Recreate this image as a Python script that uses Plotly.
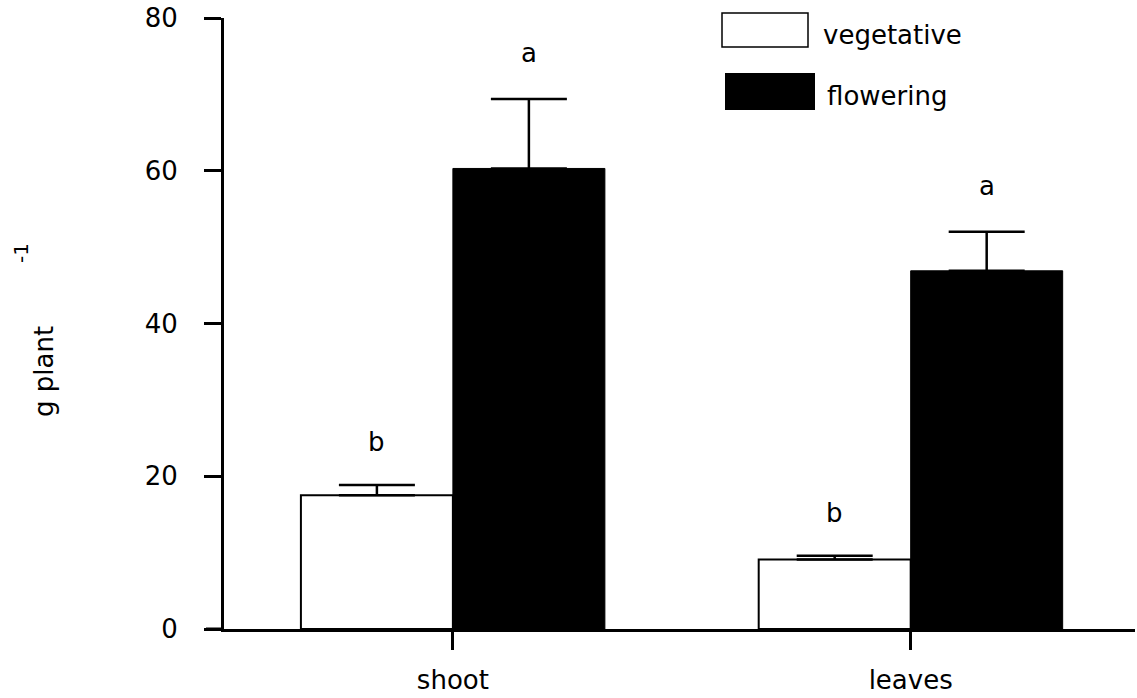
import plotly.graph_objects as go

categories = ["shoot", "leaves"]
vegetative = [17.5, 9.1]
vegetative_err = [1.35, 0.5]
flowering = [60.3, 46.9]
flowering_err = [9.1, 5.1]
veg_letters = ["b", "b"]
flo_letters = ["a", "a"]
yticks = [0, 20, 40, 60, 80]

FONT = "DejaVu Sans"
W, H = 1137, 698
L, R, T, B = 224, 2, 18, 69
PW = W - L - R
PH = H - T - B


def px(x):
    return (x - L) / PW


def py(y):
    return (H - B - y) / PH


fig = go.Figure()
fig.add_trace(go.Bar(
    x=categories, y=vegetative, name="vegetative",
    marker=dict(color="white", line=dict(color="black", width=2)),
    error_y=dict(type="data", array=vegetative_err, arrayminus=[0, 0], symmetric=False,
                 color="black", thickness=2.5, width=38),
))
fig.add_trace(go.Bar(
    x=categories, y=flowering, name="flowering",
    marker=dict(color="black", line=dict(color="black", width=1)),
    error_y=dict(type="data", array=flowering_err, arrayminus=[0, 0], symmetric=False,
                 color="black", thickness=2.5, width=38),
))

annotations = []
for i, c in enumerate(categories):
    annotations.append(dict(x=i - 0.166, y=vegetative[i] + vegetative_err[i], xref="x", yref="y",
                            text=veg_letters[i], showarrow=False, yanchor="middle", yshift=43,
                            font=dict(family=FONT, size=26, color="black")))
    annotations.append(dict(x=i + 0.166, y=flowering[i] + flowering_err[i], xref="x", yref="y",
                            text=flo_letters[i], showarrow=False, yanchor="middle", yshift=46,
                            font=dict(family=FONT, size=26, color="black")))

# y-axis title
annotations.append(dict(x=px(44), y=py(372), xref="paper", yref="paper", text="g plant",
                        textangle=-90, showarrow=False, xanchor="center", yanchor="middle",
                        font=dict(family=FONT, size=26, color="black")))
annotations.append(dict(x=px(21), y=py(253), xref="paper", yref="paper", text="-1",
                        textangle=-90, showarrow=False, xanchor="center", yanchor="middle",
                        font=dict(family=FONT, size=20, color="black")))
# legend
annotations.append(dict(x=px(821), y=py(35), xref="paper", yref="paper", text="vegetative",
                        showarrow=False, xanchor="left", yanchor="middle",
                        font=dict(family=FONT, size=26, color="black")))
annotations.append(dict(x=px(825), y=py(96), xref="paper", yref="paper", text="flowering",
                        showarrow=False, xanchor="left", yanchor="middle",
                        font=dict(family=FONT, size=26, color="black")))

shapes = [
    dict(type="rect", xref="paper", yref="paper", x0=px(722), x1=px(808), y0=py(47), y1=py(13),
         line=dict(color="black", width=1.5), fillcolor="white"),
    dict(type="rect", xref="paper", yref="paper", x0=px(725), x1=px(815), y0=py(110), y1=py(73),
         line=dict(color="black", width=0), fillcolor="black"),
    dict(type="line", xref="paper", yref="y", x0=px(206), x1=0, y0=0, y1=0,
         line=dict(color="black", width=3)),
]

fig.update_layout(
    width=W, height=H,
    margin=dict(l=L, r=R, t=T, b=B, pad=0),
    paper_bgcolor="white", plot_bgcolor="white",
    showlegend=False,
    barmode="group", bargap=0.336, bargroupgap=0,
    font=dict(family=FONT, size=26, color="black"),
    annotations=annotations, shapes=shapes,
    xaxis=dict(type="category", range=[-0.5, 1.49], showline=True, linecolor="black", linewidth=3,
               ticks="outside", ticklen=18, tickwidth=3, tickcolor="black",
               showgrid=False, zeroline=False, ticklabelstandoff=8,
               tickfont=dict(family=FONT, size=26, color="black")),
    yaxis=dict(range=[0, 80], tickvals=yticks, showline=True, linecolor="black", linewidth=3,
               ticks="outside", ticklen=17, tickwidth=3, tickcolor="black",
               showgrid=False, zeroline=False, ticklabelstandoff=21,
               tickfont=dict(family=FONT, size=26, color="black")),
)

fig.write_html("out.html")
